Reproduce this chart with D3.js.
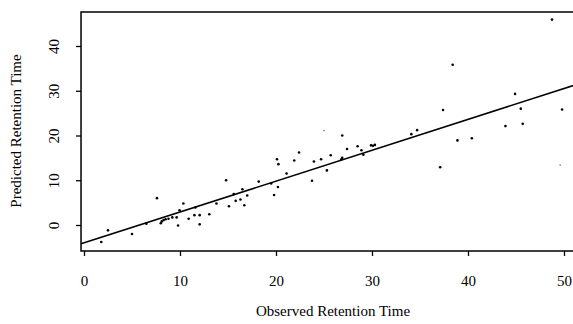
<!DOCTYPE html>
<html>
  <head>
    <meta charset="utf-8">
    <title>Predicted vs Observed Retention Time</title>
    <style>
      body { margin: 0; background: #fff; }
      svg { display: block; }
      .tick text { font-family: "Liberation Serif", "DejaVu Serif", serif; font-size: 15px; fill: #000; }
      .axis-title { font-family: "Liberation Serif", "DejaVu Serif", serif; font-size: 15px; fill: #000; }
    </style>
  </head>
  <body>
    <svg width="573" height="324"></svg>
    <script src="https://d3js.org/d3.v7.min.js"></script>
    <script>
      // observed / predicted retention times
      const observed = [1.8, 2.5, 5.0, 7.6, 6.5, 8.0, 8.1, 8.3, 8.5, 8.8, 9.2, 9.65, 9.8, 9.95,
        10.35, 10.9, 11.5, 11.6, 12.05, 12.05, 13.05, 13.8, 14.8, 15.1, 15.6, 15.8, 16.3, 16.5,
        16.7, 17.0, 18.2, 19.5, 19.8, 20.2, 20.1, 20.25, 21.1, 21.9, 22.4, 23.75, 23.95, 24.7,
        25.3, 25.7, 26.8, 26.9, 26.9, 27.4, 28.5, 28.9, 29.1, 29.9, 30.1, 30.3,
        34.1, 34.7, 37.1, 37.4, 38.4, 38.9, 40.4, 43.9, 44.9, 45.5, 45.7, 48.75, 49.8];
      const predicted = [-3.8, -1.2, -2.0, 6.0, 0.3, 0.4, 0.8, 1.1, 1.3, 1.4, 1.7, 1.7, -0.1, 3.3,
        4.8, 1.4, 2.2, 3.9, 2.2, 0.15, 2.4, 4.8, 10.0, 4.2, 6.9, 5.4, 5.7, 8.0,
        4.4, 6.6, 9.7, 9.3, 6.7, 8.5, 14.7, 13.6, 11.5, 14.4, 16.2, 9.9, 14.2, 14.7,
        12.2, 15.6, 14.7, 15.0, 20.0, 17.0, 17.6, 16.7, 15.7, 17.8, 17.7, 17.9,
        20.3, 21.2, 12.9, 25.7, 35.8, 18.9, 19.4, 22.1, 29.3, 26.0, 22.6, 45.9, 25.8];
      // two faint marks in the scan
      const faintObserved = [25.0, 49.6];
      const faintPredicted = [21.1, 13.4];

      // fitted line: predicted = intercept + slope * observed
      const intercept = -4.0;
      const slope = 0.69;

      const xTicks = [0, 10, 20, 30, 40, 50];
      const yTicks = [0, 10, 20, 30, 40];

      const svg = d3.select("svg");

      const x = d3.scaleLinear().domain([0, 50]).range([84, 564]);
      const y = d3.scaleLinear().domain([0, 40]).range([225, 46]);

      const frameLeft = x(-0.31), frameRight = 600, frameTop = y(47.6), frameBottom = y(-5.8);

      // frame (right side runs off the page)
      svg.append("path")
        .attr("d", `M${frameRight},${frameTop}H${frameLeft}V${frameBottom}H${frameRight}`)
        .attr("fill", "none")
        .attr("stroke", "#000")
        .attr("stroke-width", 1.5);

      const xAxis = svg.append("g")
        .attr("transform", `translate(0,${frameBottom})`)
        .call(d3.axisBottom(x).tickValues(xTicks).tickSize(5).tickPadding(19).tickFormat(d3.format("d")));
      xAxis.select(".domain").remove();
      xAxis.selectAll(".tick line").attr("stroke-width", 1.3);

      const yAxis = svg.append("g")
        .attr("transform", `translate(${frameLeft},0)`)
        .call(d3.axisLeft(y).tickValues(yTicks).tickSize(5).tickFormat(d3.format("d")));
      yAxis.select(".domain").remove();
      yAxis.selectAll(".tick line").attr("stroke-width", 1.3);
      yAxis.selectAll(".tick text")
        .attr("x", null)
        .attr("text-anchor", "middle")
        .attr("transform", "translate(-27,0) rotate(-90)")
        .attr("dy", "0.35em");

      // regression line
      svg.append("line")
        .attr("x1", frameLeft).attr("y1", y(intercept + slope * x.invert(frameLeft)))
        .attr("x2", frameRight).attr("y2", y(intercept + slope * x.invert(frameRight)))
        .attr("stroke", "#000")
        .attr("stroke-width", 1.6);

      svg.append("g").selectAll("circle")
        .data(observed.map((d, i) => [d, predicted[i]]))
        .join("circle")
        .attr("cx", d => x(d[0]))
        .attr("cy", d => y(d[1]))
        .attr("r", 1.3)
        .attr("fill", "#000");

      svg.append("g").selectAll("circle")
        .data(faintObserved.map((d, i) => [d, faintPredicted[i]]))
        .join("circle")
        .attr("cx", d => x(d[0]))
        .attr("cy", d => y(d[1]))
        .attr("r", 0.9)
        .attr("fill", "#888");

      svg.append("text")
        .attr("class", "axis-title")
        .attr("x", 333).attr("y", 316)
        .attr("text-anchor", "middle")
        .text("Observed Retention Time");

      svg.append("text")
        .attr("class", "axis-title")
        .attr("transform", "translate(21,131) rotate(-90)")
        .attr("text-anchor", "middle")
        .text("Predicted Retention Time");
    </script>
  </body>
</html>
